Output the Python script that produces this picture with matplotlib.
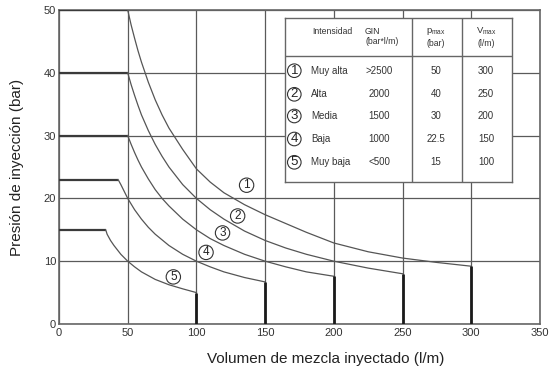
import matplotlib
matplotlib.use("Agg")
import matplotlib.pyplot as plt

plt.rcParams['font.family'] = ['Liberation Sans', 'DejaVu Sans']

# Curves p(V) for each grouting intensity: plateau at p_max, falling branch,
# then cut off at V_max.
v1 = [50, 52.5, 55, 57.5, 60, 65, 70, 75, 80, 90, 100, 110, 120, 135, 150, 165, 180, 200, 225, 250, 275, 300]
p1 = [50, 47.6, 45.5, 43.5, 41.7, 38.5, 35.7, 33.3, 31.2, 27.8, 24.7, 22.6, 20.9, 19.0, 17.4, 16.0, 14.6, 12.9, 11.5, 10.5, 9.8, 9.2]

v2 = [50, 52.5, 55, 57.5, 60, 65, 70, 75, 80, 90, 100, 110, 120, 135, 150, 165, 180, 200, 225, 250]
p2 = [40, 38.1, 36.4, 34.8, 33.3, 30.8, 28.6, 26.7, 25.0, 22.2, 20.0, 18.2, 16.7, 14.8, 13.3, 12.1, 11.1, 10.0, 8.9, 8.0]

v3 = [50, 52.5, 55, 57.5, 60, 65, 70, 75, 80, 90, 100, 110, 120, 135, 150, 165, 180, 200]
p3 = [30, 28.6, 27.3, 26.1, 25.0, 23.1, 21.4, 20.0, 18.8, 16.7, 15.0, 13.6, 12.5, 11.1, 10.0, 9.1, 8.3, 7.6]

v4 = [43, 45, 47.5, 50, 55, 60, 65, 70, 80, 90, 100, 110, 120, 135, 150]
p4 = [23, 22.2, 21.1, 20.0, 18.2, 16.7, 15.4, 14.3, 12.5, 11.1, 10.0, 9.1, 8.3, 7.4, 6.7]

v5 = [34, 35, 37.5, 40, 42.5, 45, 50, 55, 60, 65, 70, 80, 90, 100]
p5 = [15, 14.3, 13.3, 12.5, 11.8, 11.1, 10.0, 9.1, 8.3, 7.7, 7.1, 6.25, 5.6, 5.0]

curves = [(v1, p1), (v2, p2), (v3, p3), (v4, p4), (v5, p5)]

# Table contents
numbers = ['1', '2', '3', '4', '5']
intensities = ['Muy alta', 'Alta', 'Media', 'Baja', 'Muy baja']
gin_values = ['>2500', '2000', '1500', '1000', '<500']
pmax_values = ['50', '40', '30', '22.5', '15']
vmax_values = ['300', '250', '200', '150', '100']

x_ticks = [0, 50, 100, 150, 200, 250, 300, 350]
y_ticks = [0, 10, 20, 30, 40, 50]

fig = plt.figure(figsize=(5.53, 3.71), dpi=100)
ax = fig.add_axes([59 / 553, 47 / 371, 481 / 553, 314 / 371])
ax.set_xlim(0, 350)
ax.set_ylim(0, 50)
ax.set_xticks(x_ticks)
ax.set_yticks(y_ticks)
ax.tick_params(length=0, labelsize=8, colors='#333333')
ax.tick_params(axis='y', pad=2)
ax.tick_params(axis='x', pad=3)
for s in ax.spines.values():
    s.set_color('#666666')
    s.set_linewidth(1.2)
ax.grid(True, color='#5a5a5a', linewidth=0.9, zorder=1)
ax.set_axisbelow(True)

grey = '#555555'
for v, p in curves:
    # plateau
    ax.plot([0, v[0]], [p[0], p[0]], color='#3a3a3a', linewidth=1.6, zorder=3,
            solid_capstyle='butt')
    # falling branch
    ax.plot(v, p, color=grey, linewidth=0.9, zorder=3)
    # cut-off at V_max
    ax.plot([v[-1], v[-1]], [p[-1], 0], color='#1a1a1a', linewidth=2.0, zorder=3,
            solid_capstyle='butt')

# Circled curve numbers
label_pos = [(136.5, 22.1), (130, 17.2), (119, 14.5), (107, 11.4), (83.2, 7.5)]
for n, (x, y) in zip(numbers, label_pos):
    ax.text(x, y, n, fontsize=8.5, ha='center', va='center', color='#222222', zorder=4,
            bbox=dict(boxstyle='circle,pad=0.1', fc='white', ec='#333333', lw=0.8))

ax.set_xlabel('Volumen de mezcla inyectado (l/m)', fontsize=11, color='#222222')
ax.xaxis.set_label_coords(0.555, -0.088)
ax.set_ylabel('Presión de inyección (bar)', fontsize=11, color='#222222')
ax.yaxis.set_label_coords(-0.072, 0.5)

# Legend table
tx0, ty0, tx1, ty1 = 285, 18, 512, 182
tab = fig.add_axes([tx0 / 553, (371 - ty1) / 371, (tx1 - tx0) / 553, (ty1 - ty0) / 371])
tab.set_xlim(0, tx1 - tx0)
tab.set_ylim(ty1 - ty0, 0)
tab.set_xticks([])
tab.set_yticks([])
tab.set_facecolor('white')
for s in tab.spines.values():
    s.set_color('#666666')
    s.set_linewidth(1.0)
lc = '#666666'
tab.plot([0, tx1 - tx0], [38, 38], color=lc, lw=1.0)
tab.plot([126.7, 126.7], [0, ty1 - ty0], color=lc, lw=1.0)
tab.plot([177.3, 177.3], [0, ty1 - ty0], color=lc, lw=1.0)

tc = '#333333'
hs = 6.2
tab.text(27.7, 13, 'Intensidad', fontsize=hs, color=tc, ha='left', va='center')
tab.text(80, 13, 'GIN', fontsize=hs, color=tc, ha='left', va='center')
tab.text(80, 24, '(bar*l/m)', fontsize=hs, color=tc, ha='left', va='center')
tab.text(151, 13.5, r'p$_{\mathregular{max}}$', fontsize=hs + 0.6, color=tc, ha='center', va='center')
tab.text(151, 25, '(bar)', fontsize=hs, color=tc, ha='center', va='center')
tab.text(201, 13.5, r'V$_{\mathregular{max}}$', fontsize=hs + 0.6, color=tc, ha='center', va='center')
tab.text(201, 25, '(l/m)', fontsize=hs, color=tc, ha='center', va='center')

row_y = [52.7, 76.3, 98, 121, 144.3]
fs = 7
for y, n, name, g, pm, vm in zip(row_y, numbers, intensities, gin_values, pmax_values, vmax_values):
    tab.text(9.3, y, n, fontsize=9.5, ha='center', va='center', color='#222222',
             bbox=dict(boxstyle='circle,pad=0.06', fc='white', ec='#333333', lw=0.8))
    tab.text(26, y, name, fontsize=fs, color=tc, ha='left', va='center')
    tab.text(94.5, y, g, fontsize=fs, color=tc, ha='center', va='center')
    tab.text(151, y, pm, fontsize=fs, color=tc, ha='center', va='center')
    tab.text(201, y, vm, fontsize=fs, color=tc, ha='center', va='center')

fig.savefig('out.png', dpi=100, facecolor='white')
